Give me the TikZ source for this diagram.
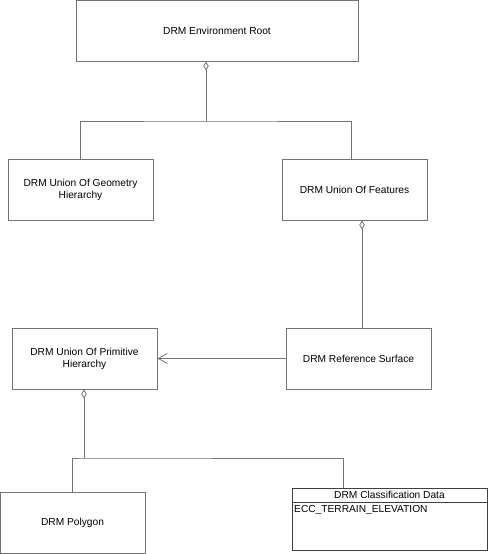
\documentclass[tikz,border=0pt]{standalone}
\usepackage{fontspec}
\setmainfont{Liberation Sans}
\usetikzlibrary{positioning,arrows.meta,calc}

\begin{document}
\begin{tikzpicture}[x=1pt,y=1pt,
	classbox/.style={rectangle, draw=black!55, line width=1pt, minimum width=145pt, minimum height=61pt, align=center, inner sep=0pt, font=\fontsize{10.2}{12}\selectfont},
	classtext/.style={inner sep=0pt, font=\fontsize{10.2}{12}\selectfont},
	link/.style={draw=black!55, line width=1pt},
	aggr/.style={link, -{Diamond[open, length=9pt, width=5.5pt, line width=0.8pt]}},
	assoc/.style={link, -{Straight Barb[length=9pt, width=10pt, line width=0.8pt]}}]
	\useasboundingbox (0,0) rectangle (488,-554);

	\node[classbox, minimum width=282pt] (root) at (217,-30.5) {DRM Environment Root};
	\node[classbox] (geom) at (80.5,-189.5) {DRM Union Of Geometry\\Hierarchy};
	\node[classbox] (feat) at (354.5,-189.5) {DRM Union Of Features};
	\node[classbox] (prim) at (84.5,-358.5) {DRM Union Of Primitive\\Hierarchy};
	\node[classbox] (refs) at (358.5,-358.5) {DRM Reference Surface};
	\node[classbox] (poly) at (72.5,-522.5) {DRM Polygon};

	\node[classbox, draw=black!75, minimum width=195pt, minimum height=62pt] (cls) at (389.5,-519) {};
	\node[classtext, minimum height=15pt, below=0pt of cls.north] (clshead) {DRM Classification Data};
	\node[classtext, inner sep=2.5pt, anchor=north west] (clsattr) at (clshead.south -| cls.west) {ECC\_TERRAIN\_ELEVATION};
	\draw[draw=black!75, line width=1pt] (clshead.south -| cls.west) -- (clshead.south -| cls.east);

	\coordinate (rootj) at (206,-121);
	\coordinate (featup) at ([xshift=-3.5pt]feat.north);
	\draw[aggr] (rootj) -- (rootj |- root.south);
	\draw[link] (geom.north) |- (rootj) -| (featup);

	\coordinate (refsup) at ([xshift=3.5pt]refs.north);
	\draw[aggr] (refsup) -- (refsup |- feat.south);

	\draw[assoc] (refs.west) -- (prim.east);

	\coordinate (primj) at (84,-458);
	\coordinate (clsup) at ([xshift=-46.5pt]cls.north);
	\draw[aggr] (primj) -- (primj |- prim.south);
	\draw[link] (poly.north) |- (primj) -| (clsup);
\end{tikzpicture}
\end{document}
